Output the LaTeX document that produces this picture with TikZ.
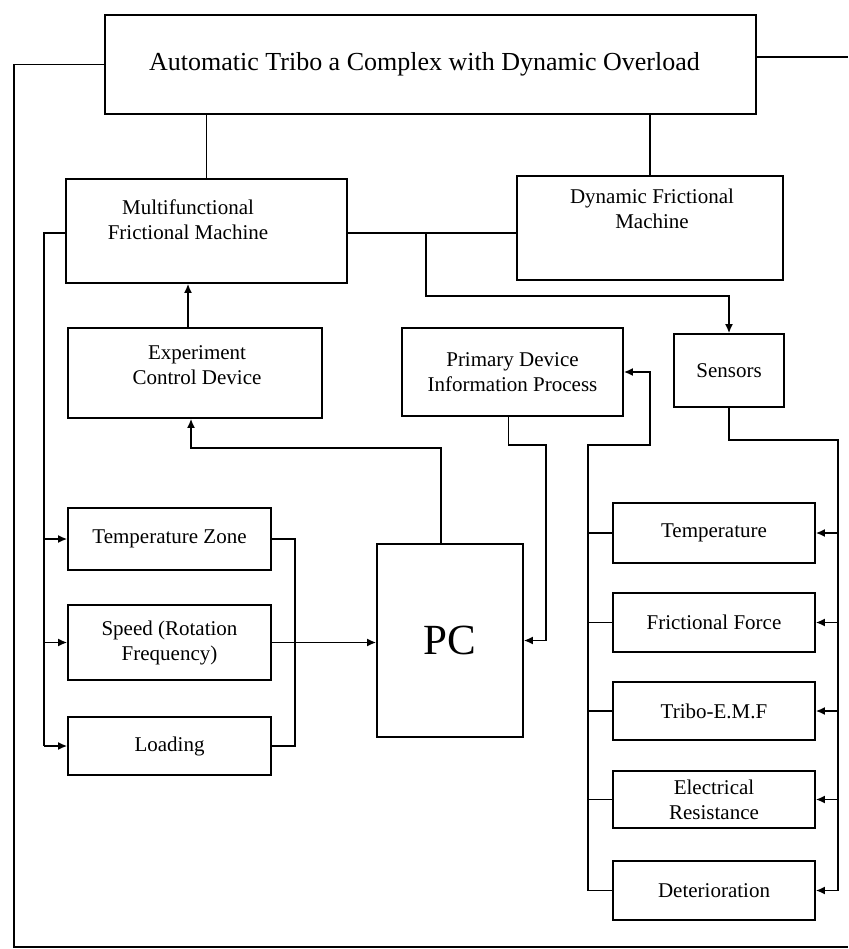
\documentclass[tikz,border=0pt]{standalone}
\usepackage{fontspec}
\setmainfont{Liberation Serif}
\usetikzlibrary{arrows.meta,calc}
\newcommand\lblfont{\fontsize{21}{25}\selectfont}
\newcommand\ttlfont{\fontsize{26}{30}\selectfont}
\newcommand\pcfont{\fontsize{43}{46}\selectfont}
\begin{document}
\begin{tikzpicture}[x=1pt,y=-1pt,
  box/.style={draw, line width=1.8pt, inner sep=0pt, align=center, font=\lblfont},
  lbl/.style={align=center, inner sep=0pt, font=\lblfont},
  conn/.style={line width=1.5pt},
  arr/.style={conn, -{Latex[length=9pt,width=8pt]}}]
\useasboundingbox[fill=white] (0,0) rectangle (848,949);

% boxes
\node[box, minimum width=651pt, minimum height=99pt, font=\ttlfont] (top) at (430.5,64.5) {\hspace*{-12pt}Automatic Tribo a Complex with Dynamic Overload};
\node[box, minimum width=281pt, minimum height=104pt] (multi) at (206.5,231) {};
\node[lbl] (multit) at (188,220) {Multifunctional\\Frictional Machine};
\node[box, minimum width=266pt, minimum height=104pt] (dyn) at (650,228) {};
\node[lbl] (dynt) at (652,209) {Dynamic Frictional\\Machine};
\node[box, minimum width=254pt, minimum height=90pt] (exp) at (195,373) {};
\node[lbl] (expt) at (197,365.5) {Experiment\\Control Device};
\node[box, minimum width=221pt, minimum height=88pt] (prim) at (512.5,372) {Primary Device\\Information Process};
\node[box, minimum width=110pt, minimum height=73pt] (sens) at (729,370.5) {Sensors};
\node[box, minimum width=203pt, minimum height=62pt] (tz) at (169.5,539) {Temperature Zone};
\node[box, minimum width=203pt, minimum height=75pt] (speed) at (169.5,642.5) {Speed (Rotation\\Frequency)};
\node[box, minimum width=203pt, minimum height=58pt] (load) at (169.5,746) {Loading};
\node[box, minimum width=146pt, minimum height=193pt, font=\pcfont] (pc) at (450,640.5) {PC};
\node[box, minimum width=202pt, minimum height=60pt] (temp) at (714,533) {Temperature};
\node[box, minimum width=202pt, minimum height=59pt] (ff) at (714,622.5) {Frictional Force};
\node[box, minimum width=202pt, minimum height=58pt] (tribo) at (714,711) {Tribo-E.M.F};
\node[box, minimum width=202pt, minimum height=57pt] (er) at (714,799.5) {Electrical\\Resistance};
\node[box, minimum width=202pt, minimum height=59pt] (det) at (714,890.5) {Deterioration};

% outer frame lines
\coordinate (obl) at (14,947);
\coordinate (obr) at (848,947);
\coordinate (otr) at (848,57);
\draw[conn] (top.west) -| (obl) -- (obr);
\draw[conn] (top.east |- otr) -- (otr);

% top to machines
\draw[conn] (top.south -| multi.north) -- (multi.north);
\draw[conn] (top.south -| dyn.north) -- (dyn.north);
\coordinate (mj) at (426,233);
\coordinate (mk) at (426,296);
\draw[conn] (multi.east |- mj) -- (dyn.west |- mj);
\draw[arr] (mj) -- (mk) -| (sens.north);

% left inputs
\coordinate (ibt) at (44,233);
\coordinate (ibb) at (44,746);
\draw[conn] (multi.west |- ibt) -- (ibt) -- (ibb);
\draw[arr] (ibb) -- (load.west);
\draw[arr] (ibt |- tz.west) -- (tz.west);
\draw[arr] (ibt |- speed.west) -- (speed.west);
\coordinate (rb) at (295,746);
\draw[conn] (tz.east) -| (rb) -- (load.east);
\draw[arr] (speed.east) -- (pc.west |- speed.east);

% PC to experiment control, experiment control to machine
\coordinate (pct) at (441,448);
\draw[arr] (pc.north -| pct) -- (pct) -| ([xshift=-4pt]exp.south);
\draw[arr] ([xshift=-7pt]exp.north) -- ([xshift=-7pt]exp.north |- multi.south);

% primary device to PC
\coordinate (pp) at (546,445);
\draw[arr] ([xshift=-4pt]prim.south) |- (pp) |- (pc.east);

% sensor outputs to primary device
\coordinate (lbt) at (588,445);
\coordinate (lbr) at (650,445);
\draw[arr] (det.west) -| (lbt) -- (lbr) |- (prim.east);
\foreach \n in {temp,ff,tribo,er} \draw[conn] (\n.west) -- (\n.west -| lbt);

% sensors to measured quantities
\coordinate (rbt) at (838,440);
\draw[arr] (sens.south) |- (rbt) |- (det.east);
\foreach \n in {temp,ff,tribo,er} \draw[arr] (rbt |- \n.east) -- (\n.east);
\end{tikzpicture}
\end{document}
